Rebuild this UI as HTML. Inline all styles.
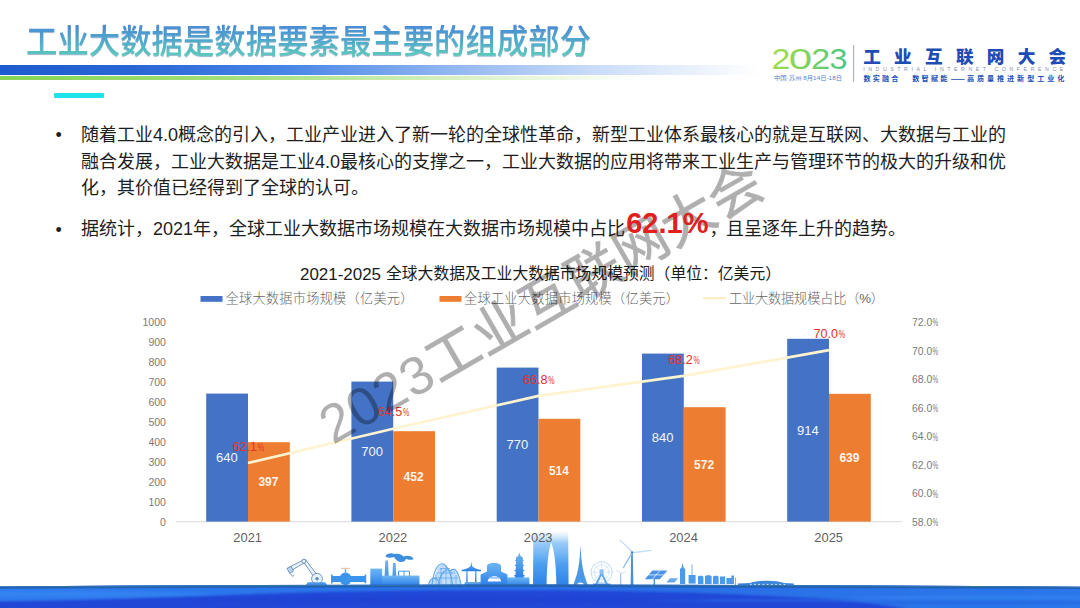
<!DOCTYPE html>
<html lang="zh-CN">
<head>
<meta charset="utf-8">
<title>工业大数据是数据要素最主要的组成部分</title>
<style>
html,body{margin:0;padding:0;background:#fff;}
body{width:1080px;height:608px;overflow:hidden;position:relative;
  font-family:"Liberation Sans","Noto Sans CJK SC",sans-serif;color:#111;}
.abs{position:absolute;white-space:nowrap;}
#title{left:26px;top:18.5px;font-size:31.4px;line-height:46px;font-weight:500;letter-spacing:0px;
  transform:scaleY(1.05);transform-origin:0 50%;
  background:linear-gradient(180deg,#4a8dd6 18%,#52b0c8 55%,#60d4b6 88%);
  -webkit-background-clip:text;background-clip:text;color:transparent;
  filter:drop-shadow(0.9px 1.1px 0.7px rgba(70,120,165,.5));}
#barblue{left:0;top:64.5px;width:760px;height:10.8px;
  background:linear-gradient(90deg,#1d5bd0 0%,#2a66d6 18%,#4a86e6 38%,#8db4f0 58%,#c9dcf8 78%,rgba(255,255,255,0) 100%);}
#bargreen{left:0;top:76.2px;width:640px;height:4.2px;
  background:linear-gradient(90deg,#86d455 0%,#a3de78 35%,#cdeeb4 65%,rgba(255,255,255,0) 100%);}
#cyan{left:54px;top:92.5px;width:49.5px;height:5.5px;background:#1fe3ea;border-radius:1px;}
.body{font-size:18px;line-height:26px;color:#1e1e1e;letter-spacing:0px;}
.dot{font-size:18px;line-height:26px;color:#1e1e1e;}
#big{font-size:29px;font-weight:700;color:#e0201c;letter-spacing:0px;line-height:0;margin:0 1px 0 1.2px;position:relative;top:-1.6px;}
</style>
</head>
<body>
<!-- header -->
<div id="title" class="abs">工业大数据是数据要素最主要的组成部分</div>
<div id="barblue" class="abs"></div>
<div id="bargreen" class="abs"></div>
<div id="cyan" class="abs"></div>

<!-- LOGO -->
<svg class="abs" id="logo" style="left:760px;top:35px" width="320" height="60" viewBox="760 35 320 60">
<defs>
<linearGradient id="lg23" gradientUnits="userSpaceOnUse" x1="772" y1="48" x2="846" y2="70">
<stop offset="0" stop-color="#a6de4e"/><stop offset="0.5" stop-color="#7ad35e"/><stop offset="1" stop-color="#4cc488"/>
</linearGradient>
</defs>
<g font-family="'Liberation Sans','Noto Sans CJK SC',sans-serif">
<text y="68.8" font-family="'Liberation Sans','Noto Sans CJK SC',sans-serif" font-weight="400" font-size="29.6" fill="url(#lg23)"><tspan x="771.4" textLength="18.8" lengthAdjust="spacingAndGlyphs">2</tspan><tspan x="788.8" textLength="23.4" lengthAdjust="spacingAndGlyphs">0</tspan><tspan x="811" textLength="19.2" lengthAdjust="spacingAndGlyphs">2</tspan><tspan x="829.6" textLength="18" lengthAdjust="spacingAndGlyphs">3</tspan></text>
<text x="774" y="80.2" font-size="5.4" fill="#4f7fd2" textLength="68" lengthAdjust="spacingAndGlyphs">中国·苏州 8月14日-18日</text>
<rect x="853.2" y="45" width="0.9" height="36.5" fill="#8fa0b8"/>
<text x="863.2" y="63.2" font-size="17.6" font-weight="900" fill="#1c4cb4" textLength="203" lengthAdjust="spacing">工业互联网大会</text>
<text x="863.2" y="71.1" font-size="5.2" fill="#7f8eab" textLength="200" lengthAdjust="spacing">INDUSTRIAL INTERNET CONFERENCE</text>
<text y="80.9" font-size="7.1" font-weight="700" fill="#2050b6"><tspan x="863.4" letter-spacing="2.2">数实融合</tspan><tspan x="900.5" letter-spacing="0"> </tspan><tspan x="912.2" letter-spacing="2.3">数智赋能</tspan><tspan x="951" letter-spacing="-0.6">——</tspan><tspan x="966.9" letter-spacing="2.95">高质量推进新型工业化</tspan></text>
</g>
</svg>

<!-- FOOTER -->
<svg class="abs" id="footer" style="left:0;top:520px" width="1080" height="88" viewBox="0 520 1080 88">
<defs>
<linearGradient id="sky" x1="0" y1="0" x2="0" y2="1"><stop offset="0" stop-color="#6db6f3"/><stop offset="1" stop-color="#2a7fe7"/></linearGradient>
<linearGradient id="gate" gradientUnits="userSpaceOnUse" x1="0" y1="531" x2="0" y2="586"><stop offset="0" stop-color="#9fd0f8" stop-opacity="0"/><stop offset="0.22" stop-color="#86c2f6" stop-opacity="0.85"/><stop offset="0.6" stop-color="#4d9ff0"/><stop offset="1" stop-color="#2b82ea"/></linearGradient>
<linearGradient id="sea" x1="0" y1="0" x2="0" y2="1"><stop offset="0" stop-color="#2e83ea"/><stop offset="0.3" stop-color="#2268e2"/><stop offset="0.65" stop-color="#1c52d8"/><stop offset="1" stop-color="#1b49cf"/></linearGradient>
<linearGradient id="seah" x1="0" y1="0" x2="1" y2="0"><stop offset="0" stop-color="#2a7cf0" stop-opacity="0.35"/><stop offset="0.3" stop-color="#1636c0" stop-opacity="0.25"/><stop offset="0.55" stop-color="#1636c0" stop-opacity="0.2"/><stop offset="0.8" stop-color="#2a80f0" stop-opacity="0.3"/><stop offset="1" stop-color="#2a80f0" stop-opacity="0.35"/></linearGradient>
</defs>
<!-- skyline -->
<g id="skyline" fill="url(#sky)" stroke="none">
<!-- robot arm -->
<g fill="#e6f2fe" stroke="#5b7fa6" stroke-width="0.8">
<path d="M302.5 560.5 L305.5 559.6 L318.6 577 L315.3 578.8 Z"/>
<path d="M289.5 567.2 L303 560 L304.6 562.6 L291.2 570.6 Z"/>
<circle cx="303.9" cy="561.2" r="2"/>
<circle cx="317" cy="578.8" r="5.4"/>
<circle cx="317" cy="578.8" r="1.3" fill="#5b8fc8"/>
<path d="M287 568.4 L291 566.4 L293.4 571 L289.6 573.2 Z" fill="#b9d7f3"/>
<path d="M290.2 573.4 L292.6 576.4 L294.2 575.2" fill="none"/>
</g>
<path d="M305 586 L308 582.2 L325 582.2 L328 586 Z" fill="#4c97ea"/>
<!-- valve -->
<rect x="331" y="576" width="35" height="6" rx="0.8" fill="#3c93ec"/>
<rect x="331" y="574.6" width="1.6" height="8.8" fill="#3c93ec"/><rect x="364.6" y="574.6" width="1.6" height="8.8" fill="#3c93ec"/>
<circle cx="345.5" cy="578.8" r="6.2" fill="#3c93ec"/>
<rect x="344.8" y="568.6" width="1.4" height="5" fill="#66aef2"/>
<rect x="341" y="567.8" width="9" height="1.3" fill="#e8c7a8"/>
<!-- factory -->
<rect x="370.3" y="568.6" width="11.8" height="17.4"/>
<path d="M384.2 586 L385.3 560.6 L388 560.6 L389.2 586 Z"/>
<path d="M392 586 L393 563 L395.6 563 L396.8 586 Z"/>
<rect x="382" y="575.6" width="37.4" height="10.4"/>
<path d="M398.5 576 V571.2 H409.5 V576 M404 571.2 V576" fill="none" stroke="#4b9bee" stroke-width="1"/>
<path d="M385.5 556.2 C386.5 552.8 392 552.6 394.5 554 C398 553 402 554.4 403.5 556.4 C407 555 412.6 556.2 413.6 559 C411 560.6 407.4 559.6 406 558.8 C405.4 562 400.4 563.2 397.6 561 C396 559.4 394.6 558.4 394.2 557 C391.4 558 387 558 385.5 556.2 Z" fill="#3f8fdf"/>
<!-- lattice arches -->
<path d="M428.5 585.4 C430 578 434 576 435 577 C437 566 442 561 446 565 C448 567 449 569 450 571 C455 566 459 572 461 585.4 Z" fill="#5da6ef" fill-opacity="0.38"/>
<g fill="none" stroke="#5da6ef" stroke-width="1.1">
<path d="M428.5 585 C430 577 437 575 440 585"/>
<path d="M432 585 C434 566 441 560 446 566 C451 572 452 580 452.6 585"/>
<path d="M438 585 C441 572 446 568 450 571 C455 566 459 572 461 585"/>
<path d="M434 578 H458 M437 573 H455 M440 568.6 H450" stroke-width="0.8"/>
<path d="M436 585 V574 M441 585 V568 M446 585 V566 M451 585 V571 M456 585 V575" stroke-width="0.7"/>
</g>
<!-- pavilion -->
<path d="M471.3 561.6 L472.2 566.2 C474.5 568.6 478 569.6 481 569.8 L481 571.2 L461.6 571.2 L461.6 569.8 C464.6 569.6 468.1 568.6 470.4 566.2 Z"/>
<rect x="466.2" y="571" width="1.5" height="11.4"/><rect x="475" y="571" width="1.5" height="11.4"/>
<rect x="464.6" y="582" width="18" height="4"/>
<!-- gate building -->
<path d="M480.6 586 V574.6 L487 571.6 V565.4 C489 562 499 562 501 565.4 V571.6 L507.5 574.6 V586 Z"/>
<path d="M487.6 581.6 C488.4 574.4 500.4 574.4 501.2 581.6 Z" fill="#ffffff"/>
<rect x="489" y="577.2" width="11" height="1.4" fill="#7db9f3"/>
<!-- pagoda -->
<path d="M519.4 552.6 L520.6 556 L522.8 557.4 L522.8 559.4 L524 560.4 L522.8 561 L522.8 564.2 L524.4 565.4 L523 566 L523 569.4 L524.8 570.6 L523.2 571.2 L523.2 574.6 L525.2 576 L523.6 576.6 L523.6 578 L515.2 578 L515.2 576.6 L513.6 576 L515.6 574.6 L515.6 571.2 L514 570.6 L515.8 569.4 L515.8 566 L514.4 565.4 L516 564.2 L516 561 L514.8 560.4 L516 559.4 L516 557.4 L518.2 556 Z"/>
<rect x="507" y="577.4" width="22.4" height="8.6"/>
<!-- Gate of the Orient -->
<path d="M533 586 L533.4 531 L568.2 531 L568.6 586 L556.4 586 C556.2 566 554.4 550 551.2 542.6 C548.4 550 546.8 566 546.6 586 Z" fill="url(#gate)"/>
<!-- Eiffel -->
<path d="M580.5 545.4 L581.3 558 L582.3 566 L584 574 L588 586 L584.6 586 C583.6 581.4 577.4 581.4 576.4 586 L573 586 L577 574 L578.7 566 L579.7 558 Z" fill="#4b98e9"/>
<rect x="577.6" y="572.6" width="5.8" height="1" fill="#4b98e9"/><rect x="578.6" y="565.4" width="3.8" height="0.9" fill="#4b98e9"/>
<!-- ferris wheel -->
<g fill="none" stroke="#c3dcf6" stroke-width="1">
<circle cx="601.6" cy="572.2" r="10.6"/><circle cx="601.6" cy="572.2" r="7.4" stroke-width="0.7"/>
<path d="M591 572.2 H612.2 M601.6 561.6 V582.8 M594.1 564.7 L609.1 579.7 M609.1 564.7 L594.1 579.7" stroke-width="0.6"/>
</g>
<path d="M601.6 571 L608.6 585.4 L606.4 585.4 L601.6 575.2 L596.8 585.4 L594.6 585.4 Z" fill="#5aa6ee"/>
<rect x="599.6" y="569.4" width="4" height="4.6" fill="#8cc0f4"/>
<rect x="593" y="583.6" width="17.4" height="2.4" fill="#3f8fe6"/>
<!-- wind turbines -->
<path d="M631.2 552.6 L632.8 552.6 L633.4 586 L630.6 586 Z" fill="#4a8fd6"/>
<path d="M632 552.4 L619.2 540.2 L620.2 539.6 L633 551.2 Z" fill="#c4dcf5"/>
<path d="M632 552 L651.4 549.8 L651.5 551 L632.2 553.4 Z" fill="#c4dcf5"/>
<path d="M631.4 552.4 L622.6 567.8 L623.8 568.2 L632.8 553 Z" fill="#8ebdf0"/>
<circle cx="632" cy="552.6" r="1.3" fill="#4a8fd6"/>
<rect x="620.2" y="573.6" width="1" height="12.4" fill="#7fb3ea"/>
<path d="M620.7 573.6 L616.4 570.2 M620.7 573.6 L625.4 571.6 M620.7 573.6 L620 579" stroke="#b5d3f3" stroke-width="0.7" fill="none"/>
<!-- solar panels -->
<path d="M644.8 579.2 L652.4 570.6 L667.4 570.6 L659.8 579.2 Z" fill="#4b93e6"/>
<path d="M648.6 574.9 H663.6 M652.3 579.2 L659.9 570.6" stroke="#e4f0fd" stroke-width="0.8" fill="none"/>
<rect x="653.6" y="579" width="1.4" height="7" fill="#4b93e6"/>
<path d="M666.4 582.4 L670 578.2 L678 578.2 L674.4 582.4 Z" fill="#6aa9ee"/>
<!-- city small -->
<path d="M680 584 V569 L681.6 567.6 L682.6 563 L683.6 567.6 L685.2 569 V584 Z" fill="#4c9aec"/>
<rect x="691.6" y="564.4" width="0.9" height="11" fill="#6fa9e4"/><rect x="688.6" y="575" width="7" height="8.6" fill="#4c9aec"/>
<path d="M698 584 V577 C698 575.2 703.4 575.2 703.4 577 V584 Z M705 584 V576.4 C705 574.8 711.6 574.8 711.6 576.4 V584 Z M713 584 V577 C713 575.4 718.6 575.4 718.6 577 V584 Z M720 584 V576.6 H725 V584 Z M726.4 584 V578 H731.4 V575.6 H734 V584 Z" fill="#4c9aec"/>
<rect x="735" y="577.6" width="0.9" height="8" fill="#6fa9e4"/>
<!-- station -->
<path d="M738 586.4 V583.4 L750 583 C758 580 776 580 784 583 L793.8 583.4 V586.4 Z" fill="#3b86d9"/>
<path d="M750 584.4 H786" stroke="#dcebfb" stroke-width="1" stroke-dasharray="1.6 2.6" fill="none"/>
</g>
<!-- sea -->
<defs>
<clipPath id="seaclip"><path d="M0 586.4 Q270 584.6 540 584.6 Q810 584.6 1080 586.8 V608 H0 Z"/></clipPath>
<filter id="blur1" x="-5%" y="-50%" width="110%" height="200%"><feGaussianBlur stdDeviation="6 1.3"/></filter>
<linearGradient id="bright" x1="0" y1="0" x2="1" y2="0"><stop offset="0" stop-color="#2f7cf0"/><stop offset="0.3" stop-color="#2a74ea"/><stop offset="0.6" stop-color="#296fe6"/><stop offset="1" stop-color="#2c77ea"/></linearGradient>
</defs>
<g clip-path="url(#seaclip)">
<rect x="0" y="580" width="1080" height="30" fill="#2147d7"/>
<path filter="url(#blur1)" fill="url(#bright)" d="M-20 575 H1100 V615 H930 C900 606 860 600.5 800 597.5 C740 594.5 690 592 620 591 C560 590.2 470 590 400 590.8 C320 591.8 250 594 190 596.4 C120 599 60 600.6 -20 601.6 Z"/>
<ellipse cx="60" cy="594" rx="150" ry="2.4" fill="#3b8cf6" opacity="0.5" filter="url(#blur1)"/>
<ellipse cx="1000" cy="597.5" rx="150" ry="2.2" fill="#3b8cf6" opacity="0.45" filter="url(#blur1)"/>
<ellipse cx="990" cy="602.6" rx="120" ry="1.4" fill="#2458dc" opacity="0.5" filter="url(#blur1)"/>
<ellipse cx="760" cy="600.5" rx="120" ry="1.6" fill="#2f78ec" opacity="0.4" filter="url(#blur1)"/>
<ellipse cx="450" cy="600" rx="260" ry="3" fill="#1d3fce" opacity="0.45" filter="url(#blur1)"/>
<path d="M0 587.6 Q270 585.8 540 585.8 Q810 585.8 1080 588" fill="none" stroke="#1f5ca6" stroke-width="2.2" stroke-opacity="0.8"/>
<path d="M0 586.4 Q270 584.6 540 584.6 Q810 584.6 1080 586.8" fill="none" stroke="#3a7a9a" stroke-width="1.2" stroke-opacity="0.8"/>
</g>
</svg>

<!-- CHART -->
<svg class="abs" id="chart" style="left:0;top:0" width="1080" height="608" viewBox="0 0 1080 608">
<g font-family="'Liberation Sans','Noto Sans CJK SC',sans-serif">
<text x="300" y="279.6" font-size="16.6" fill="#1a1a1a" textLength="81" lengthAdjust="spacingAndGlyphs">2021-2025</text>
<text x="386" y="279.2" font-size="15.8" fill="#1a1a1a" textLength="395" lengthAdjust="spacingAndGlyphs">全球大数据及工业大数据市场规模预测（单位：亿美元）</text>
<rect x="200.5" y="296" width="22" height="5.8" fill="#4472c4"/>
<text x="225.5" y="303.4" font-size="13.2" font-weight="300" fill="#666" textLength="188" lengthAdjust="spacing">全球大数据市场规模（亿美元）</text>
<rect x="439.5" y="296" width="22" height="5.8" fill="#ed7d31"/>
<text x="464" y="303.4" font-size="13.2" font-weight="300" fill="#666" textLength="215" lengthAdjust="spacing">全球工业大数据市场规模（亿美元）</text>
<rect x="703" y="297" width="23" height="2.2" fill="#fdedc4"/>
<text x="729" y="303.4" font-size="13.2" font-weight="300" fill="#666" textLength="155" lengthAdjust="spacing">工业大数据规模占比（%）</text>
<rect x="176" y="521.2" width="726" height="1" fill="#d9d9d9"/>
<text x="166" y="526.0" font-size="11.2" fill="#7a7a7a" text-anchor="end" textLength="5.9" lengthAdjust="spacingAndGlyphs">0</text>
<text x="166" y="506.0" font-size="11.2" fill="#7a7a7a" text-anchor="end" textLength="17.6" lengthAdjust="spacingAndGlyphs">100</text>
<text x="166" y="486.0" font-size="11.2" fill="#7a7a7a" text-anchor="end" textLength="17.6" lengthAdjust="spacingAndGlyphs">200</text>
<text x="166" y="466.0" font-size="11.2" fill="#7a7a7a" text-anchor="end" textLength="17.6" lengthAdjust="spacingAndGlyphs">300</text>
<text x="166" y="446.0" font-size="11.2" fill="#7a7a7a" text-anchor="end" textLength="17.6" lengthAdjust="spacingAndGlyphs">400</text>
<text x="166" y="426.0" font-size="11.2" fill="#7a7a7a" text-anchor="end" textLength="17.6" lengthAdjust="spacingAndGlyphs">500</text>
<text x="166" y="406.0" font-size="11.2" fill="#7a7a7a" text-anchor="end" textLength="17.6" lengthAdjust="spacingAndGlyphs">600</text>
<text x="166" y="386.0" font-size="11.2" fill="#7a7a7a" text-anchor="end" textLength="17.6" lengthAdjust="spacingAndGlyphs">700</text>
<text x="166" y="366.0" font-size="11.2" fill="#7a7a7a" text-anchor="end" textLength="17.6" lengthAdjust="spacingAndGlyphs">800</text>
<text x="166" y="346.0" font-size="11.2" fill="#7a7a7a" text-anchor="end" textLength="17.6" lengthAdjust="spacingAndGlyphs">900</text>
<text x="166" y="326.0" font-size="11.2" fill="#7a7a7a" text-anchor="end" textLength="23.5" lengthAdjust="spacingAndGlyphs">1000</text>
<text x="912" y="526.0" font-size="11.2" fill="#7a7a7a" textLength="20.2" lengthAdjust="spacingAndGlyphs">58.0</text><text x="932.6" y="526.3" font-size="10" fill="#7a7a7a" textLength="5.6" lengthAdjust="spacingAndGlyphs">%</text>
<text x="912" y="497.4" font-size="11.2" fill="#7a7a7a" textLength="20.2" lengthAdjust="spacingAndGlyphs">60.0</text><text x="932.6" y="497.7" font-size="10" fill="#7a7a7a" textLength="5.6" lengthAdjust="spacingAndGlyphs">%</text>
<text x="912" y="468.9" font-size="11.2" fill="#7a7a7a" textLength="20.2" lengthAdjust="spacingAndGlyphs">62.0</text><text x="932.6" y="469.2" font-size="10" fill="#7a7a7a" textLength="5.6" lengthAdjust="spacingAndGlyphs">%</text>
<text x="912" y="440.3" font-size="11.2" fill="#7a7a7a" textLength="20.2" lengthAdjust="spacingAndGlyphs">64.0</text><text x="932.6" y="440.6" font-size="10" fill="#7a7a7a" textLength="5.6" lengthAdjust="spacingAndGlyphs">%</text>
<text x="912" y="411.7" font-size="11.2" fill="#7a7a7a" textLength="20.2" lengthAdjust="spacingAndGlyphs">66.0</text><text x="932.6" y="412.0" font-size="10" fill="#7a7a7a" textLength="5.6" lengthAdjust="spacingAndGlyphs">%</text>
<text x="912" y="383.1" font-size="11.2" fill="#7a7a7a" textLength="20.2" lengthAdjust="spacingAndGlyphs">68.0</text><text x="932.6" y="383.4" font-size="10" fill="#7a7a7a" textLength="5.6" lengthAdjust="spacingAndGlyphs">%</text>
<text x="912" y="354.6" font-size="11.2" fill="#7a7a7a" textLength="20.2" lengthAdjust="spacingAndGlyphs">70.0</text><text x="932.6" y="354.9" font-size="10" fill="#7a7a7a" textLength="5.6" lengthAdjust="spacingAndGlyphs">%</text>
<text x="912" y="326.0" font-size="11.2" fill="#7a7a7a" textLength="20.2" lengthAdjust="spacingAndGlyphs">72.0</text><text x="932.6" y="326.3" font-size="10" fill="#7a7a7a" textLength="5.6" lengthAdjust="spacingAndGlyphs">%</text>
<rect x="206.2" y="393.6" width="41.8" height="128.0" fill="#4472c4"/>
<rect x="248.0" y="442.2" width="41.8" height="79.4" fill="#ed7d31"/>
<rect x="351.4" y="381.6" width="41.8" height="140.0" fill="#4472c4"/>
<rect x="393.2" y="431.2" width="41.8" height="90.4" fill="#ed7d31"/>
<rect x="496.7" y="367.6" width="41.8" height="154.0" fill="#4472c4"/>
<rect x="538.5" y="418.8" width="41.8" height="102.8" fill="#ed7d31"/>
<rect x="642.0" y="353.6" width="41.8" height="168.0" fill="#4472c4"/>
<rect x="683.8" y="407.2" width="41.8" height="114.4" fill="#ed7d31"/>
<rect x="787.2" y="338.8" width="41.8" height="182.8" fill="#4472c4"/>
<rect x="829.0" y="393.8" width="41.8" height="127.8" fill="#ed7d31"/>
<polyline points="248.0,463.0 393.2,428.7 538.5,395.9 683.8,375.9 829.0,350.2" fill="none" stroke="#fff3d0" stroke-width="2.7" stroke-linejoin="round"/>
<text x="226.8" y="462.3" font-size="13" fill="#f2f6ff" text-anchor="middle">640</text>
<text x="268.4" y="486.3" font-size="12" font-weight="700" fill="#fff4ea" text-anchor="middle">397</text>
<text x="372.1" y="456.3" font-size="13" fill="#f2f6ff" text-anchor="middle">700</text>
<text x="413.6" y="480.8" font-size="12" font-weight="700" fill="#fff4ea" text-anchor="middle">452</text>
<text x="517.3" y="449.3" font-size="13" fill="#f2f6ff" text-anchor="middle">770</text>
<text x="558.9" y="474.6" font-size="12" font-weight="700" fill="#fff4ea" text-anchor="middle">514</text>
<text x="662.6" y="442.3" font-size="13" fill="#f2f6ff" text-anchor="middle">840</text>
<text x="704.1" y="468.8" font-size="12" font-weight="700" fill="#fff4ea" text-anchor="middle">572</text>
<text x="807.8" y="434.9" font-size="13" fill="#f2f6ff" text-anchor="middle">914</text>
<text x="849.4" y="462.1" font-size="12" font-weight="700" fill="#fff4ea" text-anchor="middle">639</text>
<text x="232.5" y="450.6" font-size="12.8" fill="#e5322a" textLength="24.6" lengthAdjust="spacingAndGlyphs">62.1</text><text x="257.7" y="450.6" font-size="11.2" fill="#e5322a" textLength="6.3" lengthAdjust="spacingAndGlyphs">%</text>
<text x="377.8" y="416.3" font-size="12.8" fill="#e5322a" textLength="24.6" lengthAdjust="spacingAndGlyphs">64.5</text><text x="403.0" y="416.3" font-size="11.2" fill="#e5322a" textLength="6.3" lengthAdjust="spacingAndGlyphs">%</text>
<text x="523.0" y="383.5" font-size="12.8" fill="#e5322a" textLength="24.6" lengthAdjust="spacingAndGlyphs">66.8</text><text x="548.2" y="383.5" font-size="11.2" fill="#e5322a" textLength="6.3" lengthAdjust="spacingAndGlyphs">%</text>
<text x="668.2" y="363.5" font-size="12.8" fill="#e5322a" textLength="24.6" lengthAdjust="spacingAndGlyphs">68.2</text><text x="693.4" y="363.5" font-size="11.2" fill="#e5322a" textLength="6.3" lengthAdjust="spacingAndGlyphs">%</text>
<text x="813.5" y="337.8" font-size="12.8" fill="#e5322a" textLength="24.6" lengthAdjust="spacingAndGlyphs">70.0</text><text x="838.7" y="337.8" font-size="11.2" fill="#e5322a" textLength="6.3" lengthAdjust="spacingAndGlyphs">%</text>
<text x="247.7" y="541.5" font-size="12.9" fill="#5f5f5f" text-anchor="middle">2021</text>
<text x="392.9" y="541.5" font-size="12.9" fill="#5f5f5f" text-anchor="middle">2022</text>
<text x="538.2" y="541.5" font-size="12.9" fill="#5f5f5f" text-anchor="middle">2023</text>
<text x="683.5" y="541.5" font-size="12.9" fill="#5f5f5f" text-anchor="middle">2024</text>
<text x="828.7" y="541.5" font-size="12.9" fill="#5f5f5f" text-anchor="middle">2025</text>
</g></svg>

<!-- WATERMARK -->
<svg class="abs" id="wm" style="left:0;top:0;pointer-events:none" width="1080" height="608" viewBox="0 0 1080 608">
<g opacity="0.31"><text transform="translate(333,445) rotate(-30)" font-family="'Liberation Sans','Noto Sans CJK SC',sans-serif" font-weight="400" font-size="53.7" fill="#000" letter-spacing="0.6"><tspan letter-spacing="0.8">2023</tspan><tspan stroke="#000" stroke-width="0.8">工业互联网大会</tspan></text></g>
</svg>

<!-- body text -->
<div class="abs dot" style="left:55.5px;top:122px;">•</div>
<div class="abs body" style="left:81px;top:122.3px;">随着工业4.0概念的引入，工业产业进入了新一轮的全球性革命，新型工业体系最核心的就是互联网、大数据与工业的</div>
<div class="abs body" style="left:81px;top:148.5px;">融合发展，工业大数据是工业4.0最核心的支撑之一，工业大数据的应用将带来工业生产与管理环节的极大的升级和优</div>
<div class="abs body" style="left:81px;top:174.8px;">化，其价值已经得到了全球的认可。</div>
<div class="abs dot" style="left:55.5px;top:216.8px;">•</div>
<div class="abs body" style="left:81px;top:215.7px;">据统计，2021年，全球工业大数据市场规模在大数据市场规模中占比<span id="big">62.1%</span><span style="margin-right:-1.5px">，</span>且呈逐年上升的趋势。</div>

</body>
</html>
